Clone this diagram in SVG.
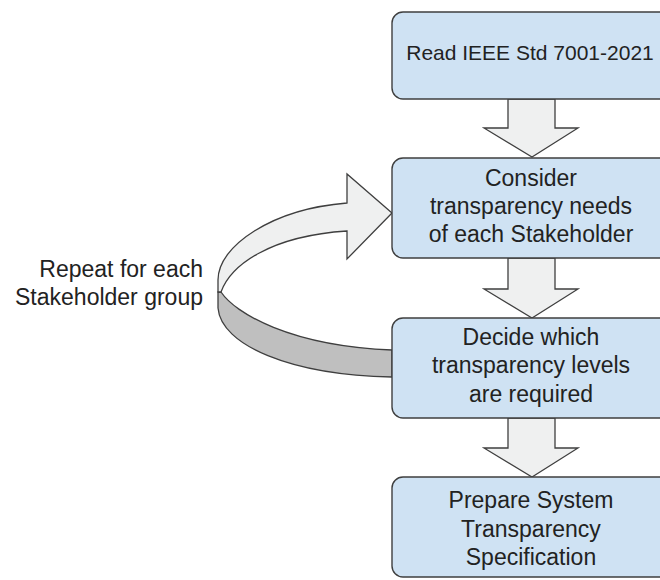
<svg xmlns="http://www.w3.org/2000/svg" width="660" height="580" viewBox="0 0 660 580">
  <style>
    .box { fill: #cfe2f3; stroke: #3f3f3f; stroke-width: 1.4; }
    .arrow { fill: #eff0f0; stroke: #3f3f3f; stroke-width: 1.3; stroke-linejoin: miter; }
    .back { fill: #bfbfbf; stroke: #3f3f3f; stroke-width: 1.3; }
    text { font-family: "Liberation Sans", Arial, sans-serif; font-size: 23px; fill: #222222; }
    .mid { text-anchor: middle; }
    .end { text-anchor: end; }
  </style>
  <rect width="660" height="580" fill="#ffffff"/>

  <!-- block arrows between steps and the repeat loop -->
  <g id="connectors">
    <path class="arrow" d="M508,99 L555,99 L555,128 L578,128 L532,157 L484,128 L508,128 Z"/>
    <path class="arrow" d="M508,258 L555,258 L555,289 L578,289 L532,318 L484,289 L508,289 Z"/>
    <path class="arrow" d="M508,418 L555,418 L555,448 L578,448 L532,477 L484,448 L508,448 Z"/>
    <!-- loop ribbon: shaded underside, then front face with head -->
    <path class="back" d="M221,292 C235,313 290,346 392,350 L392,377 C290,375 221,345 218,308 L218,292 Z"/>
    <path class="arrow" d="M392,213 L347,174 L347,203 C272,209 218,246 218,280 L218,292 L221,292 C231,265 270,236 347,231 L347,259 Z"/>
  </g>

  <g id="step-read">
    <rect class="box" x="392" y="12" width="290" height="87" rx="11"/>
    <text class="mid" x="530" y="60" style="font-size:21px">Read IEEE Std 7001-2021</text>
  </g>

  <g id="step-consider">
    <rect class="box" x="392" y="158" width="290" height="100" rx="11"/>
    <text class="mid" x="531" y="186">Consider</text>
    <text class="mid" x="531" y="214">transparency needs</text>
    <text class="mid" x="531" y="242">of each Stakeholder</text>
  </g>

  <g id="step-decide">
    <rect class="box" x="392" y="318" width="290" height="100" rx="11"/>
    <text class="mid" x="531" y="345">Decide which</text>
    <text class="mid" x="531" y="373">transparency levels</text>
    <text class="mid" x="531" y="402">are required</text>
  </g>

  <g id="step-prepare">
    <rect class="box" x="392" y="477" width="290" height="100" rx="11"/>
    <text class="mid" x="531" y="508">Prepare System</text>
    <text class="mid" x="531" y="537">Transparency</text>
    <text class="mid" x="531" y="565">Specification</text>
  </g>

  <g id="repeat-label">
    <text class="end" x="203" y="277">Repeat for each</text>
    <text class="end" x="203" y="305">Stakeholder group</text>
  </g>
</svg>
